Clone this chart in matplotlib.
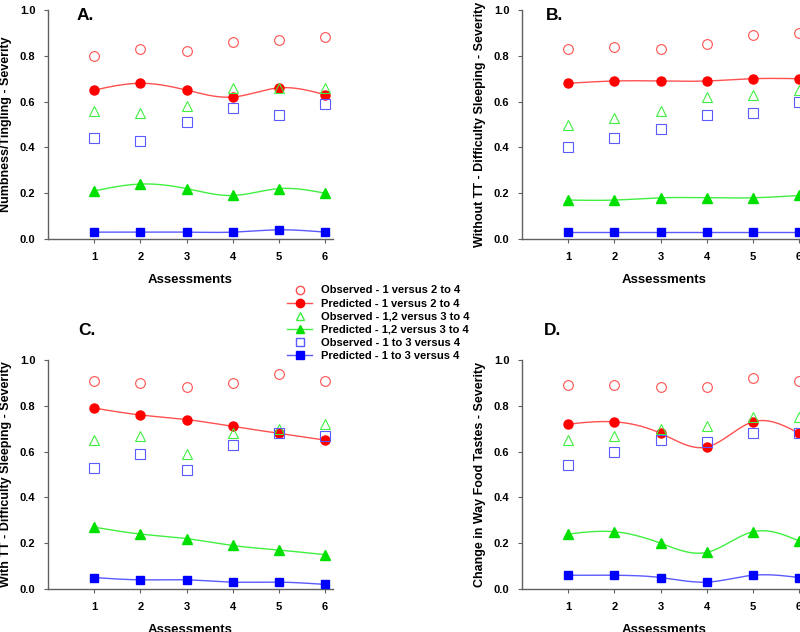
import numpy as np
import matplotlib
matplotlib.use("Agg")
import matplotlib.pyplot as plt
from matplotlib.lines import Line2D

plt.rcParams['font.family'] = ['Liberation Sans', 'DejaVu Sans']
plt.rcParams['font.weight'] = 'bold'

assessments = [1, 2, 3, 4, 5, 6]

# Panel A
a_obs1 = [0.80, 0.83, 0.82, 0.86, 0.87, 0.88]
a_pred1 = [0.65, 0.68, 0.65, 0.62, 0.66, 0.63]
a_obs2 = [0.56, 0.55, 0.58, 0.66, 0.66, 0.66]
a_pred2 = [0.21, 0.24, 0.22, 0.19, 0.22, 0.20]
a_obs3 = [0.44, 0.43, 0.51, 0.57, 0.54, 0.59]
a_pred3 = [0.03, 0.03, 0.03, 0.03, 0.04, 0.03]

# Panel B
b_obs1 = [0.83, 0.84, 0.83, 0.85, 0.89, 0.90]
b_pred1 = [0.68, 0.69, 0.69, 0.69, 0.70, 0.70]
b_obs2 = [0.50, 0.53, 0.56, 0.62, 0.63, 0.65]
b_pred2 = [0.17, 0.17, 0.18, 0.18, 0.18, 0.19]
b_obs3 = [0.40, 0.44, 0.48, 0.54, 0.55, 0.60]
b_pred3 = [0.03, 0.03, 0.03, 0.03, 0.03, 0.03]

# Panel C
c_obs1 = [0.91, 0.90, 0.88, 0.90, 0.94, 0.91]
c_pred1 = [0.79, 0.76, 0.74, 0.71, 0.68, 0.65]
c_obs2 = [0.65, 0.67, 0.59, 0.68, 0.70, 0.72]
c_pred2 = [0.27, 0.24, 0.22, 0.19, 0.17, 0.15]
c_obs3 = [0.53, 0.59, 0.52, 0.63, 0.68, 0.67]
c_pred3 = [0.05, 0.04, 0.04, 0.03, 0.03, 0.02]

# Panel D
d_obs1 = [0.89, 0.89, 0.88, 0.88, 0.92, 0.91]
d_pred1 = [0.72, 0.73, 0.68, 0.62, 0.73, 0.68]
d_obs2 = [0.65, 0.67, 0.70, 0.71, 0.75, 0.75]
d_pred2 = [0.24, 0.25, 0.20, 0.16, 0.25, 0.21]
d_obs3 = [0.54, 0.60, 0.65, 0.64, 0.68, 0.68]
d_pred3 = [0.06, 0.06, 0.05, 0.03, 0.06, 0.05]

panel_letters = ["A.", "B.", "C.", "D."]
y_labels = ["Numbness/Tingling - Severity",
            "Without TT - Difficulty Sleeping - Severity",
            "With TT - Difficulty Sleeping - Severity",
            "Change in Way Food Tastes - Severity"]
legend_labels = ["Observed - 1 versus 2 to 4", "Predicted - 1 versus 2 to 4",
                 "Observed - 1,2 versus 3 to 4", "Predicted - 1,2 versus 3 to 4",
                 "Observed - 1 to 3 versus 4", "Predicted - 1 to 3 versus 4"]

RED = '#ff0000'
RED_L = '#ff5050'
GREEN = '#00e000'
GREEN_L = '#40f040'
BLUE = '#0000ff'
BLUE_L = '#5a5aff'


def smooth(x, y, n=200):
    """Natural cubic spline through the points (line rendering only)."""
    x = np.asarray(x, float)
    y = np.asarray(y, float)
    m = len(x)
    h = np.diff(x)
    A = np.zeros((m, m))
    r = np.zeros(m)
    A[0, 0] = A[-1, -1] = 1
    for i in range(1, m - 1):
        A[i, i - 1] = h[i - 1]
        A[i, i] = 2 * (h[i - 1] + h[i])
        A[i, i + 1] = h[i]
        r[i] = 3 * ((y[i + 1] - y[i]) / h[i] - (y[i] - y[i - 1]) / h[i - 1])
    c = np.linalg.solve(A, r)
    xs = np.linspace(x[0], x[-1], n)
    ys = np.empty_like(xs)
    for k, xv in enumerate(xs):
        i = min(np.searchsorted(x, xv, side='right') - 1, m - 2)
        dx = xv - x[i]
        b = (y[i + 1] - y[i]) / h[i] - h[i] * (2 * c[i] + c[i + 1]) / 3
        d = (c[i + 1] - c[i]) / (3 * h[i])
        ys[k] = y[i] + b * dx + c[i] * dx ** 2 + d * dx ** 3
    return xs, ys


fig = plt.figure(figsize=(8.0, 6.32), dpi=100)

W, H = 800, 632
aw, ah = 285, 229
positions = [(48, 10), (522, 10), (48, 360), (522, 360)]
letter_pos = [(77, 8), (546, 8), (78, 323), (544, 323)]

data = [
    (a_obs1, a_pred1, a_obs2, a_pred2, a_obs3, a_pred3),
    (b_obs1, b_pred1, b_obs2, b_pred2, b_obs3, b_pred3),
    (c_obs1, c_pred1, c_obs2, c_pred2, c_obs3, c_pred3),
    (d_obs1, d_pred1, d_obs2, d_pred2, d_obs3, d_pred3),
]

for idx, ((px, py), d) in enumerate(zip(positions, data)):
    ax = fig.add_axes([px / W, 1 - (py + ah) / H, aw / W, ah / H])
    o1, p1, o2, p2, o3, p3 = d
    for obs, pred, col, coll, mk in [(o1, p1, RED, RED_L, 'o'),
                                     (o2, p2, GREEN, GREEN_L, '^'),
                                     (o3, p3, BLUE, BLUE_L, 's')]:
        xs, ys = smooth(assessments, pred)
        ax.plot(xs, ys, color=coll, lw=1.0, zorder=2)
        ax.plot(assessments, pred, linestyle='none', marker=mk, color=col,
                markersize=6.5 if mk != 's' else 6, zorder=3)
        ax.plot(assessments, obs, linestyle='none', marker=mk, mfc='none',
                mec=coll, mew=0.8, markersize=7 if mk != 's' else 6.5, zorder=4)
    ax.set_xlim(0, 6.17)
    ax.set_ylim(0, 1.0)
    ax.set_xticks(assessments)
    ax.set_yticks([0.0, 0.2, 0.4, 0.6, 0.8, 1.0])
    ax.set_yticklabels(['0.0', '0.2', '0.4', '0.6', '0.8', '1.0'])
    ax.spines['top'].set_visible(False)
    ax.spines['right'].set_visible(False)
    for s in ['left', 'bottom']:
        ax.spines[s].set_color('#606060')
        ax.spines[s].set_linewidth(1.0)
    ax.tick_params(axis='both', labelsize=8, length=3, color='#606060', pad=6)
    ax.tick_params(axis='x', length=3, pad=6)
    for t in ax.get_xticklabels() + ax.get_yticklabels():
        t.set_fontweight('bold')
    ax.set_xlabel('Assessments', fontsize=9.5, fontweight='bold', labelpad=9)
    ax.set_ylabel(y_labels[idx], fontsize=9, fontweight='bold', labelpad=6)
    lx, ly = letter_pos[idx]
    fig.text(lx / W, 1 - ly / H, panel_letters[idx], fontsize=12.5,
             fontweight='bold', va='top', ha='left')

handles = [
    Line2D([], [], linestyle='none', marker='o', mfc='none', mec=RED_L, markersize=6),
    Line2D([], [], color=RED_L, lw=1, marker='o', mfc=RED, mec=RED, markersize=6),
    Line2D([], [], linestyle='none', marker='^', mfc='none', mec=GREEN_L, markersize=6),
    Line2D([], [], color=GREEN_L, lw=1, marker='^', mfc=GREEN, mec=GREEN, markersize=6),
    Line2D([], [], linestyle='none', marker='s', mfc='none', mec=BLUE_L, markersize=5.5),
    Line2D([], [], color=BLUE_L, lw=1, marker='s', mfc=BLUE, mec=BLUE, markersize=5.5),
]
leg = fig.legend(handles, legend_labels, loc='upper left',
                 bbox_to_anchor=(283 / W, 1 - 281 / H), frameon=False,
                 prop={'size': 8, 'weight': 'bold'}, handlelength=2.2,
                 labelspacing=0.28, handletextpad=0.8, borderaxespad=0)

fig.savefig('out.png', dpi=100)
